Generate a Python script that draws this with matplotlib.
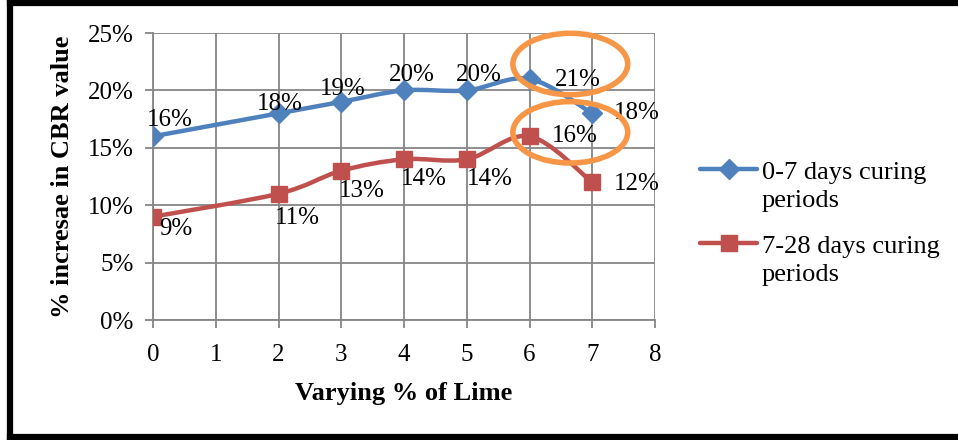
import matplotlib
matplotlib.use("Agg")
import matplotlib.pyplot as plt
from matplotlib.path import Path
from matplotlib.patches import PathPatch, Ellipse
from matplotlib.lines import Line2D
from matplotlib.ticker import FuncFormatter, MultipleLocator

# ---- data ----
lime_pct = [0, 2, 3, 4, 5, 6, 7]
cbr_0_7 = [16, 18, 19, 20, 20, 21, 18]
cbr_7_28 = [9, 11, 13, 14, 14, 16, 12]
series_names = ["0-7 days curing\nperiods", "7-28 days curing\nperiods"]
x_label = "Varying % of Lime"
y_label = "% incresae in CBR value"

BLUE = "#4F81BD"
RED = "#C0504D"
ORANGE = "#F79646"
GRID = "#868686"

plt.rcParams["font.family"] = ["Liberation Serif", "DejaVu Serif"]

W, H = 958, 440
fig = plt.figure(figsize=(W / 100, H / 100), dpi=100)
ax = fig.add_axes([153 / W, 1 - 320 / H, 502 / W, 287 / H])


def smooth_path(xs, ys):
    """Cubic Bezier path through the points (Excel-style smoothed line)."""
    n = len(xs)
    verts = [(xs[0], ys[0])]
    codes = [Path.MOVETO]
    for i in range(n - 1):
        x0, y0 = xs[max(i - 1, 0)], ys[max(i - 1, 0)]
        x1, y1 = xs[i], ys[i]
        x2, y2 = xs[i + 1], ys[i + 1]
        x3, y3 = xs[min(i + 2, n - 1)], ys[min(i + 2, n - 1)]
        c1 = (x1 + (x2 - x0) / 6, y1 + (y2 - y0) / 6)
        c2 = (x2 - (x3 - x1) / 6, y2 - (y3 - y1) / 6)
        verts += [c1, c2, (x2, y2)]
        codes += [Path.CURVE4] * 3
    return Path(verts, codes)


for ys, col, mk, ms in [(cbr_0_7, BLUE, "D", 10), (cbr_7_28, RED, "s", 12)]:
    ax.add_patch(PathPatch(smooth_path(lime_pct, ys), facecolor="none",
                           edgecolor=col, lw=3.2, zorder=3, capstyle="round"))
    ax.plot(lime_pct, ys, ls="none", marker=mk, ms=ms, color=col, zorder=4)

# data labels (pixel offsets from each point)
blue_off = [(17, 16), (1, 9), (1, 13), (8, 15), (12, 15), (48, -1), (45, 0)]
red_off = [(23, -12), (19, -24), (21, -20), (20, -20), (23, -20), (45, 0), (45, -2)]
for xs, ys, offs in [(lime_pct, cbr_0_7, blue_off), (lime_pct, cbr_7_28, red_off)]:
    for x, y, o in zip(xs, ys, offs):
        ax.annotate(f"{y}%", (x, y), xytext=o, textcoords="offset pixels",
                    ha="center", va="center", fontsize=18, zorder=5)

# highlight ellipses
for yc in (22.3, 16.35):
    ax.add_patch(Ellipse((6.65, yc), 1.83, 5.35, fill=False, ec=ORANGE,
                         lw=4, zorder=6, clip_on=False))

ax.set_xlim(0, 8)
ax.set_ylim(0, 25)
ax.xaxis.set_major_locator(MultipleLocator(1))
ax.yaxis.set_major_locator(MultipleLocator(5))
ax.yaxis.set_major_formatter(FuncFormatter(lambda v, p: f"{v:.0f}%"))
ax.grid(True, color=GRID, lw=1.3)
ax.set_axisbelow(True)
for s in ("top", "right"):
    ax.spines[s].set_visible(False)
for s in ("left", "bottom"):
    ax.spines[s].set_color(GRID)
    ax.spines[s].set_linewidth(1.3)
ax.tick_params(axis="both", direction="out", length=6, width=1.3,
               color=GRID, labelsize=18)
ax.tick_params(axis="y", pad=8)
ax.tick_params(axis="x", pad=11)

ax.set_xlabel(x_label, fontsize=19, fontweight="bold", labelpad=12)
ax.set_ylabel(y_label, fontsize=19, fontweight="bold", labelpad=10)

# legend drawn as sample lines and text
for (col, mk, ms, name, yc) in [(BLUE, "D", 10, series_names[0], 169),
                                 (RED, "s", 12, series_names[1], 243)]:
    yf = 1 - yc / H
    fig.add_artist(Line2D([700 / W, 757 / W], [yf, yf], color=col, lw=3.2,
                          solid_capstyle="round"))
    fig.add_artist(Line2D([728.5 / W], [yf], color=col, marker=mk, ms=ms))
    fig.text(762 / W, 1 - (yc + 18) / H, name, fontsize=19, ha="left",
             va="center", linespacing=1.3)

# outer frame (left, top and bottom edges; the right edge lies past the canvas)
for xs_, ys_ in [([10, 10], [2, 438]), ([10, W + 5], [3.5, 3.5]),
                 ([10, W + 5], [437, 437])]:
    fig.add_artist(Line2D([v / W for v in xs_], [1 - v / H for v in ys_],
                          color="black", lw=4.5, solid_capstyle="projecting"))

fig.savefig("out.png", dpi=100)
